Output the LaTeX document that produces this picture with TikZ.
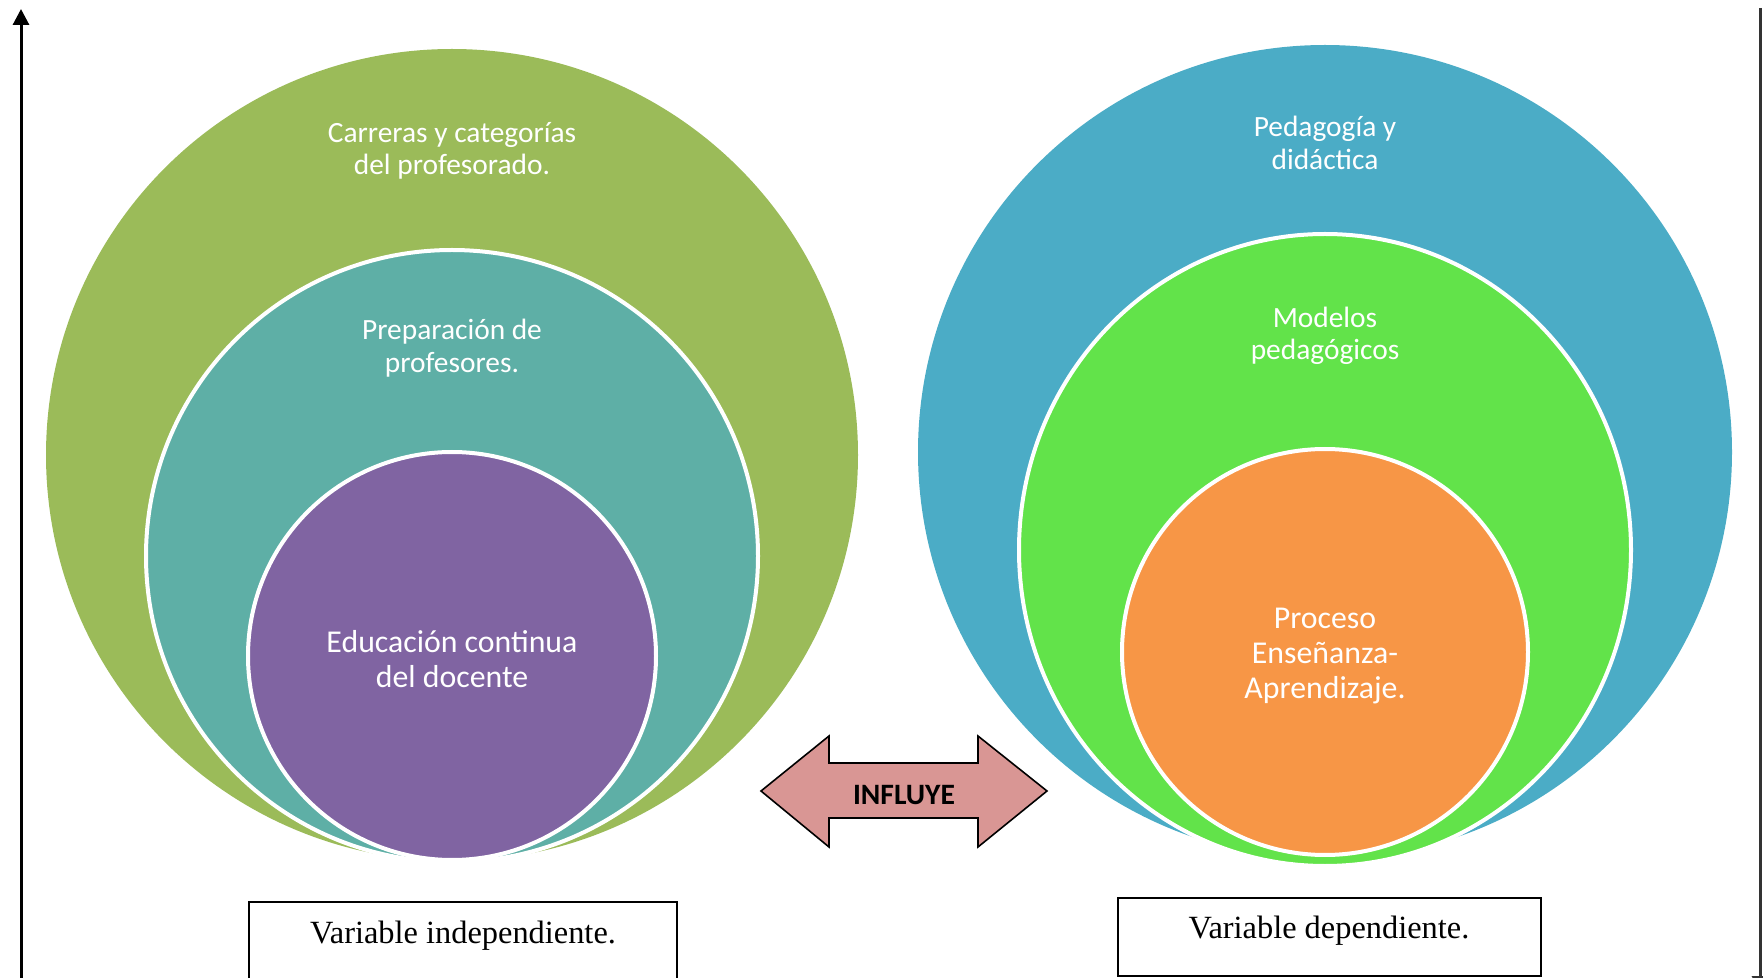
\documentclass[tikz,border=0pt]{standalone}
\usepackage{fontspec}
\usetikzlibrary{arrows.meta,shapes.geometric}
\setmainfont{Carlito}
\newfontfamily\boxfont{Liberation Serif}
\definecolor{cOliv}{HTML}{9BBB59}
\definecolor{cTeal}{HTML}{5EAFA6}
\definecolor{cPurp}{HTML}{8064A2}
\definecolor{cBlue}{HTML}{4BACC6}
\definecolor{cLime}{HTML}{62E34A}
\definecolor{cOrng}{HTML}{F79646}
\definecolor{cPink}{HTML}{D99694}
\begin{document}
\begin{tikzpicture}[x=0.5pt,y=-0.5pt,
  disc/.style={circle,inner sep=0pt,outer sep=0pt},
  ring/.style={disc,draw=white,line width=2pt},
  lbl/.style={text=white,align=center,font=\fontsize{14.7pt}{16.3pt}\selectfont},
  lblbig/.style={text=white,align=center,font=\fontsize{15.9pt}{17.6pt}\selectfont},
  varbox/.style={draw=black,line width=0.8pt,fill=white},
  vartext/.style={font=\boxfont\fontsize{16.2pt}{18pt}\selectfont},
  axis/.style={line width=1.5pt,-{Triangle[width=8pt,length=8pt]}}]
\useasboundingbox (0,0) rectangle (1763,978);
\clip (0,0) rectangle (1763,978);
% left circles
\node[disc,fill=cOliv,minimum size=406pt] (cL1) at (452,455) {};
\node[ring,fill=cTeal,minimum size=306pt] (cL2) at (452,556) {};
\node[ring,fill=cPurp,minimum size=204pt] (cL3) at (452,656) {};
% right circles
\node[disc,fill=cBlue,minimum size=407pt] (cR1) at (1325,452) {};
\node[ellipse,inner sep=0pt,outer sep=0pt,draw=white,line width=2pt,fill=cLime,
      minimum width=306pt,minimum height=316pt] (cR2) at (1325,550) {};
\node[ring,fill=cOrng,minimum size=203pt] (cR3) at (1325,652) {};
% labels
\node[lbl] (tL1) at (452,151) {Carreras y categorías\\del profesorado.};
\node[lbl] (tL2) at (452,348) {Preparación de\\profesores.};
\node[lblbig] (tL3) at (452,659) {Educación continua\\del docente};
\node[lbl] (tR1) at (1325,143) {Pedagogía y\\didáctica};
\node[lbl] (tR2) at (1325,336) {Modelos\\pedagógicos};
\node[lblbig] (tR3) at (1325,656) {Proceso\\Enseñanza-\\Aprendizaje.};
% influye arrow
\draw[fill=cPink,line width=0.8pt,line join=miter]
  (761,791) -- (829,736) -- (829,763) -- (978,763) -- (978,736) -- (1047,791)
  -- (978,847) -- (978,818) -- (829,818) -- (829,847) -- cycle;
\node[font=\bfseries\fontsize{14.8pt}{16pt}\selectfont] (inf) at (904,795) {INFLUYE};
% variable boxes
\draw[varbox] (249,902) rectangle (677,1000);
\node[vartext] (vInd) at (463,936) {Variable independiente.};
\draw[varbox] (1118,898) rectangle (1541,976);
\node[vartext] (vDep) at (1329,931) {Variable dependiente.};
% axes
\coordinate (aLb) at (21,990);
\coordinate (aLt) at (21,9);
\coordinate (aRt) at (1760,8);
\coordinate (aRb) at (1760,992);
\draw[axis] (aLb) -- (aLt);
\draw[axis,draw=black!80] (aRt) -- (aRb);
\end{tikzpicture}
\end{document}
